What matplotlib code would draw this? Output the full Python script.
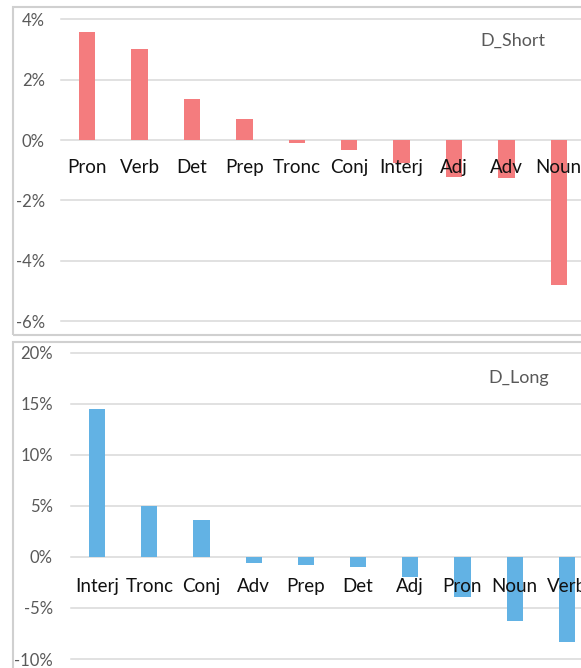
import matplotlib
matplotlib.use("Agg")
import matplotlib.pyplot as plt
from matplotlib.patches import Rectangle
from matplotlib.ticker import FuncFormatter

plt.rcParams['font.family'] = ['Lato', 'DejaVu Sans']

short_cats = ['Pron', 'Verb', 'Det', 'Prep', 'Tronc', 'Conj', 'Interj', 'Adj', 'Adv', 'Noun']
short_vals = [3.57, 3.03, 1.35, 0.70, -0.10, -0.33, -0.77, -1.23, -1.27, -4.80]
short_ticks = [-6, -4, -2, 0, 2, 4]

long_cats = ['Interj', 'Tronc', 'Conj', 'Adv', 'Prep', 'Det', 'Adj', 'Pron', 'Noun', 'Verb']
long_vals = [14.5, 4.95, 3.65, -0.55, -0.84, -1.03, -2.0, -3.96, -6.27, -8.33]
long_ticks = [-10, -5, 0, 5, 10, 15, 20]

W, H = 581, 668
fig = plt.figure(figsize=(W / 100, H / 100), dpi=100)

GRID = '#D9D9D9'
BORDER = '#D0D0D0'
TXT = '#595959'

def px_rect(x0, y0, x1, y1):
    # convert image pixel box (top-left origin) to figure fraction
    return [x0 / W, (H - y1) / H, (x1 - x0) / W, (y1 - y0) / H]

# panel borders
for (x0, y0, x1, y1) in [(13, 7, 600, 335), (13, 342, 600, 700)]:
    fig.patches.append(Rectangle((x0 / W, (H - y1) / H), (x1 - x0) / W, (y1 - y0) / H,
                                 transform=fig.transFigure, fill=False,
                                 edgecolor=BORDER, linewidth=1.5, zorder=0))

def panel(rect, cats, vals, ticks, color, title, title_xy, label_off, pad_px):
    ax = fig.add_axes(px_rect(*rect))
    ax.set_facecolor('none')
    x = list(range(len(cats)))
    ax.bar(x, vals, width=0.31, color=color, zorder=3)
    ax.set_xlim(-0.5, len(cats) - 0.5)
    ax.set_ylim(ticks[0], ticks[-1])
    ax.set_yticks(ticks)
    ax.yaxis.set_major_formatter(FuncFormatter(lambda v, p: f"{int(v)}%"))
    ax.tick_params(axis='y', length=0, pad=pad_px * 0.72, labelsize=12, labelcolor=TXT)
    ax.set_xticks([])
    for s in ax.spines.values():
        s.set_visible(False)
    for t in ticks:
        ax.axhline(t, color=GRID, linewidth=1.1, zorder=1, clip_on=False)
    for i, c in enumerate(cats):
        ax.annotate(c, xy=(i, 0), xytext=(0, -label_off), textcoords='offset pixels',
                    ha='center', va='baseline', fontsize=13.5, color='#111111', zorder=6)
    fig.text(title_xy[0] / W, (H - title_xy[1]) / H, title, ha='left', va='center',
             fontsize=13, color=TXT)
    return ax

panel((61, 19.5, 585, 321), short_cats, short_vals, short_ticks, '#F47C7E',
      'D_Short', (480, 41), 33, 16)
panel((71, 352.7, 593, 659), long_cats, long_vals, long_ticks, '#62B2E4',
      'D_Long', (488, 378), 35, 18)

fig.savefig('out.png', dpi=100)
